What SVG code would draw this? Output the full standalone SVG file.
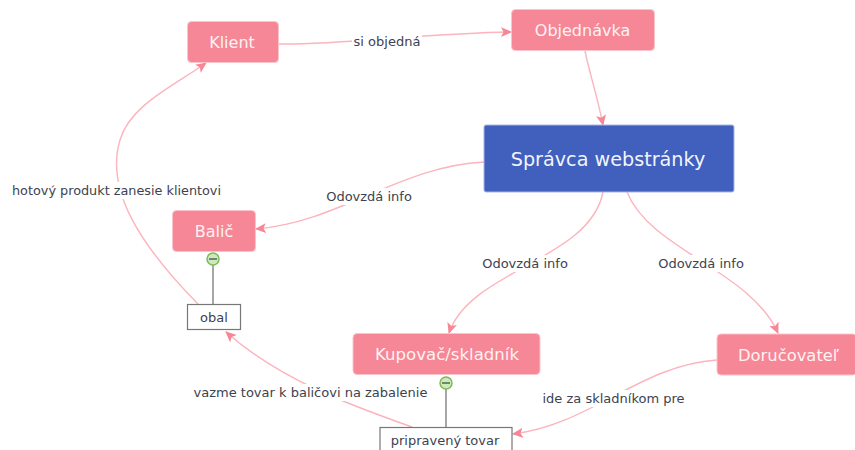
<svg xmlns="http://www.w3.org/2000/svg" width="855" height="450" viewBox="0 0 855 450">
<style>
text{font-family:"DejaVu Sans","Noto Sans",sans-serif;text-anchor:middle}
.n rect{fill:#f58796;stroke:#fbc4cc;stroke-width:1}
.n text{fill:#fff2f3;font-size:16px}
.b rect{fill:#415fbc;stroke:#a9b6e2;stroke-width:1}
.b text{fill:#f2f4fc;font-size:19.200px}
.s rect{fill:#fff;stroke:#777;stroke-width:1.2}
.s text{fill:#3d4250;font-size:13px}
.c path{fill:none;stroke:#fcb4bd;stroke-width:1.400}
.l text{fill:#3d4250;font-size:13px}
.l rect{fill:#fff}
.stem{stroke:#777;stroke-width:1.3}
.m circle{fill:#cfe8c0;stroke:#7dbb55;stroke-width:1.500}
.m path{stroke:#6a8a6a;stroke-width:2}
</style>
<defs><marker id="a" markerUnits="userSpaceOnUse" markerWidth="12" markerHeight="12" refX="10" refY="5" orient="auto"><path d="M0 0L11 5L0 10L2.500 5Z" fill="#f58796"/></marker></defs>
<g id="connectors" class="c">
<path d="M279 44C340 45 430 33 511 32" marker-end="url(#a)"/>
<path d="M585 51C590 75 597 95 603 125" marker-end="url(#a)"/>
<path d="M484 162C400 166 340 222 256 229" marker-end="url(#a)"/>
<path d="M603 192C590 260 470 270 449 333" marker-end="url(#a)"/>
<path d="M627 192C650 250 750 270 778 333" marker-end="url(#a)"/>
<path d="M717 360C640 365 590 425 513 434" marker-end="url(#a)"/>
<path d="M412 427C350 405 280 380 226 332" marker-end="url(#a)"/>
<path d="M198 304C140 245 105 190 120 140C130 105 175 85 206 63" marker-end="url(#a)"/>
</g>
<g id="edge-labels" class="l">
<rect x="352" y="33" width="70" height="17"/><text x="387" y="46">si objedná</text>
<rect x="326" y="188" width="86" height="17"/><text x="369" y="201">Odovzdá info</text>
<rect x="482" y="255" width="86" height="17"/><text x="525" y="268">Odovzdá info</text>
<rect x="658" y="255" width="86" height="17"/><text x="701" y="268">Odovzdá info</text>
<rect x="12" y="182" width="209" height="17"/><text x="116.500" y="195" textLength="209" lengthAdjust="spacingAndGlyphs">hotový produkt zanesie klientovi</text>
<rect x="193" y="384" width="235" height="17"/><text x="310.500" y="397">vazme tovar k baličovi na zabalenie</text>
<rect x="542" y="390" width="143" height="17"/><text x="613.500" y="403">ide za skladníkom pre</text>
</g>
<g id="klient" class="n"><rect x="187.500" y="21.500" width="91" height="41" rx="4"/><text x="232" y="48">Klient</text></g>
<g id="objednavka" class="n"><rect x="511.500" y="9.500" width="143" height="41" rx="4"/><text x="582.500" y="36">Objednávka</text></g>
<g id="spravca" class="b"><rect x="484" y="125" width="250" height="67" rx="2"/><text x="608" y="166">Správca webstránky</text></g>
<g id="balic" class="n"><rect x="172.500" y="210.500" width="83" height="41" rx="4"/><text x="214" y="237">Balič</text></g>
<g id="kupovac" class="n"><rect x="353" y="333.500" width="187" height="41" rx="4"/><text x="447" y="360" textLength="144" lengthAdjust="spacingAndGlyphs">Kupovač/skladník</text></g>
<g id="dorucovatel" class="n"><rect x="717" y="334" width="140" height="41" rx="4"/><text x="788.500" y="361" textLength="101" lengthAdjust="spacingAndGlyphs">Doručovateľ</text></g>
<g id="obal" class="s">
<line class="stem" x1="213" y1="265" x2="213" y2="304"/>
<rect x="187.500" y="304.500" width="53" height="25"/><text x="214" y="322">obal</text></g>
<g id="pripraveny" class="s">
<line class="stem" x1="446" y1="389" x2="446" y2="427"/>
<rect x="380" y="427.500" width="132" height="30"/><text x="445" y="445">pripravený tovar</text></g>
<g class="m" id="collapse-balic"><circle cx="213" cy="259" r="6"/><path d="M209 259H217"/></g>
<g class="m" id="collapse-kupovac"><circle cx="446" cy="383" r="6"/><path d="M442 383H450"/></g>
</svg>
